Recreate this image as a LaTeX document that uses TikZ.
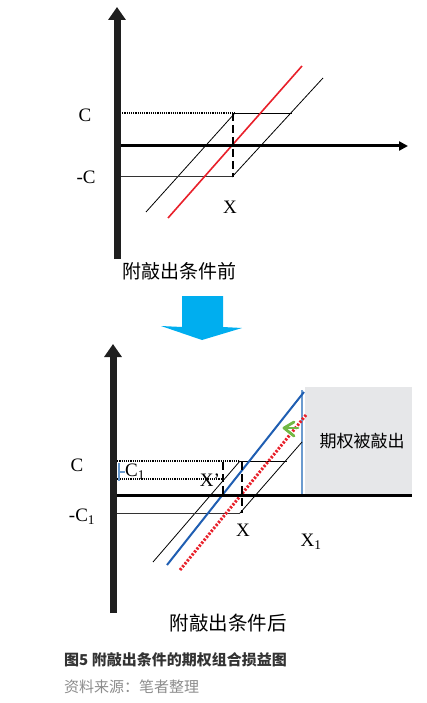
\documentclass[tikz,border=0pt]{standalone}
\usepackage{fontspec}
\setmainfont{Liberation Serif}
\newfontfamily\cjk{Noto Sans CJK SC}
\usetikzlibrary{arrows.meta}
\definecolor{redline}{RGB}{232,32,42}
\definecolor{blueline}{RGB}{31,94,178}
\definecolor{steel}{RGB}{107,155,207}
\definecolor{boxgrey}{RGB}{230,231,233}
\definecolor{cyanarrow}{RGB}{0,174,239}
\definecolor{greenarrow}{RGB}{114,184,68}
\definecolor{captiongrey}{RGB}{51,51,51}
\definecolor{sourcegrey}{RGB}{140,140,140}
\tikzset{
  vaxis/.style={line width=7pt,draw=black!88,-{Triangle[width=17pt,length=13pt]}},
  haxis/.style={line width=3pt,draw=black},
  thinline/.style={line width=0.8pt,draw=black},
  levelline/.style={line width=1pt,draw=black!80},
  dotline/.style={line width=1.2pt,draw=black,dash pattern=on 1.2pt off 1pt},
  thickdash/.style={line width=2.6pt,draw=black,dash pattern=on 8pt off 4pt},
  lab/.style={inner sep=0pt,font=\fontsize{19}{21}\selectfont},
}
\begin{document}
\begin{tikzpicture}[x=1pt,y=-1pt]
\useasboundingbox (0,0) rectangle (427,703);
% ---------- top panel ----------
\coordinate (tvb) at (117,259);
\coordinate (tvt) at (117,7);
\coordinate (tho) at (117,146);
\coordinate (the) at (408,146);
\coordinate (tcl) at (120,113);
\coordinate (tcx) at (235,113);
\coordinate (tcr) at (292,113);
\coordinate (tml) at (120,177);
\coordinate (tmx) at (232,177);
\coordinate (tl1) at (146,212);
\coordinate (tr2) at (323,78);
\coordinate (trd1) at (168,218);
\coordinate (trd2) at (302,66);
\coordinate (tdt) at (233,113);
\coordinate (tdb) at (233,177);
\draw[thinline] (tl1) -- (tcx);
\draw[thinline] (tmx) -- (tr2);
\draw[dotline] (tcl) -- (tcx);
\draw[thinline] (tcx) -- (tcr);
\draw[levelline] (tml) -- (tmx);
\draw[line width=1.6pt,draw=redline] (trd1) -- (trd2);
\draw[haxis,-{Triangle[width=9pt,length=9pt]}] (tho) -- (the);
\draw[thickdash] (tdt) -- (tdb);
\draw[vaxis] (tvb) -- (tvt);
\node[lab] (tC) at (85,115) {C};
\node[lab] (tmC) at (86,177) {-C};
\node[lab] (tX) at (230,207) {X};
\node[inner sep=0pt,font=\cjk\fontsize{19}{21}\selectfont] (tcap) at (179,271) {附敲出条件前};
% ---------- big arrow ----------
\fill[cyanarrow] (182,296) -- (223,296) -- (223,327) -- (242,328) -- (202,340) -- (161,326) -- (182,327) -- cycle;
% ---------- bottom panel ----------
\coordinate (bvb) at (113,613);
\coordinate (bvt) at (113,344);
\coordinate (bho) at (113,495);
\coordinate (bhe) at (412,495);
\fill[boxgrey] (305,387) rectangle (412,495);
\node[inner sep=0pt,font=\cjk\fontsize{17}{19}\selectfont] (ko) at (362,441) {期权被敲出};
\coordinate (x1t) at (302,390);
\coordinate (x1b) at (302,495);
\draw[line width=2pt,draw=steel] (x1t) -- (x1b);
\coordinate (bcl) at (115,461);
\coordinate (bcx) at (240,461);
\coordinate (bcr) at (287,461);
\coordinate (bc1l) at (115,479);
\coordinate (bc1r) at (222,479);
\coordinate (bml) at (115,513);
\coordinate (bmx) at (240,513);
\coordinate (bl1) at (153,562);
\coordinate (br2) at (302,442);
\draw[thinline] (bl1) -- (bcx);
\draw[thinline] (bmx) -- (br2);
\draw[dotline] (bcl) -- (bcx);
\draw[thinline] (bcx) -- (bcr);
\draw[dotline] (bc1l) -- (bc1r);
\draw[levelline] (bml) -- (bmx);
\coordinate (bb1) at (167,565);
\coordinate (bb2) at (304,392);
\draw[line width=2pt,draw=blueline] (bb1) -- (bb2);
\coordinate (br1) at (180,570);
\coordinate (brr) at (306,415);
\draw[line width=3pt,draw=redline,dash pattern=on 2.2pt off 1.6pt] (br1) -- (brr);
\draw[haxis] (bho) -- (bhe);
\coordinate (xdt) at (242,462);
\coordinate (xdb) at (242,513);
\coordinate (xpt) at (223,462);
\coordinate (xpb) at (223,497);
\draw[thickdash] (xdt) -- (xdb);
\draw[thickdash] (xpt) -- (xpb);
% green arrow
\coordinate (ga1) at (294,422);
\coordinate (ga2) at (284,428);
\coordinate (ga3) at (294,436);
\coordinate (ga4) at (298,428);
\draw[line width=2.8pt,draw=greenarrow,line cap=round,line join=round] (ga1) -- (ga2) -- (ga3);
\draw[line width=2.8pt,draw=greenarrow,line cap=round] (ga2) -- (ga4);
% C1 bracket
\coordinate (kt) at (119,463);
\coordinate (kb) at (119,481);
\coordinate (km) at (119,472);
\coordinate (kr) at (125,472);
\draw[line width=1.6pt,draw=steel] (kt) -- (kb);
\draw[line width=1.6pt,draw=steel] (km) -- (kr);
\draw[vaxis] (bvb) -- (bvt);
\node[lab] (bC) at (77,465) {C};
\node[lab] (bmC) at (82,517) {-C\textsubscript{1}};
\node[lab] (bC1) at (135,472) {C\textsubscript{1}};
\node[lab] (bXp) at (210,480) {X'};
\node[lab] (bX) at (243,530) {X};
\node[lab] (bX1) at (311,542) {X\textsubscript{1}};
\node[inner sep=0pt,font=\cjk\fontsize{19.5}{21}\selectfont] (bcap) at (228,623) {附敲出条件后};
% caption
\node[inner sep=0pt,anchor=west,text=captiongrey,font=\cjk\bfseries\fontsize{15}{17}\selectfont] (fig) at (64,660) {图5 附敲出条件的期权组合损益图};
\node[inner sep=0pt,anchor=west,text=sourcegrey,font=\cjk\fontsize{15}{17}\selectfont] (src) at (64,687) {资料来源：笔者整理};
\end{tikzpicture}
\end{document}
